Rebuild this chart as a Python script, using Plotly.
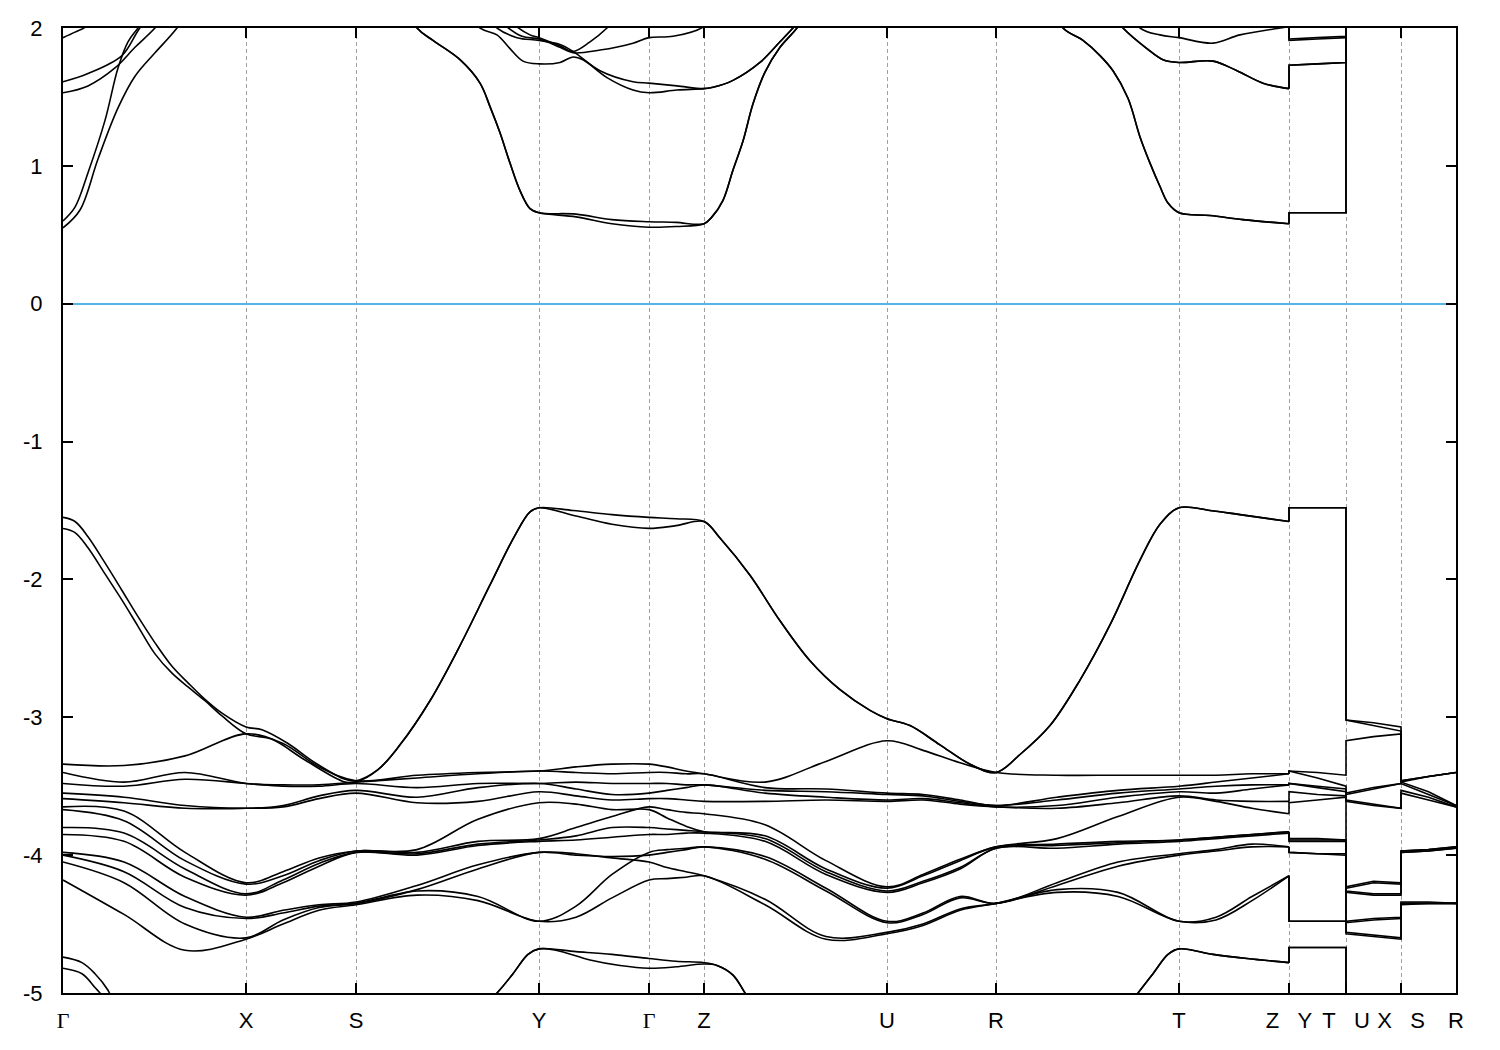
import plotly.graph_objects as go

# ---------------- k-path (high-symmetry points) ----------------
K_TICKS = [0.00, 1.83, 2.93, 4.76, 5.86, 6.41, 8.24, 9.33, 11.16, 12.26, 12.83, 13.38, 13.93]
K_LABELS = ['<span style="font-family:Liberation Serif">Γ</span>', "X", "S", "Y",
            '<span style="font-family:Liberation Serif">Γ</span>', "Z", "U", "R", "T",
            "Z\u00a0\u00a0\u00a0Y", "T\u00a0\u00a0\u00a0U", "X\u00a0\u00a0\u00a0S", "R"]
Y_TICKS = [-5, -4, -3, -2, -1, 0, 1, 2]
Y_LABELS = ["-5", "-4", "-3", "-2", "-1", "0", "1", "2"]

# sampling of the dense valence cluster (main path Γ-X-S-Y-Γ-Z-U-R-T-Z)
K_MAIN = [0.00, 0.61, 1.22, 1.83, 2.20, 2.56, 2.93, 3.54, 4.15, 4.76, 5.13, 5.49, 5.86, 6.04,
          6.23, 6.41, 7.02, 7.63, 8.24, 8.60, 8.97, 9.33, 9.94, 10.55, 11.16, 11.53, 11.89, 12.26]
# tail: Z | Y - T | U - X | S - R
K_TAIL = [12.26, 12.26, 12.545, 12.83, 12.83, 13.105, 13.38, 13.38, 13.655, 13.93]

# ---------------- valence cluster levels (13 bands, eV) ----------------
G_LEV = [-3.34, -3.40, -3.48, -3.55, -3.59, -3.65, -3.67, -3.80, -3.85, -3.98, -4.00, -4.05, -4.18]
X_LEV = [-3.12, -3.48, -3.48, -3.66, -3.66, -4.20, -4.21, -4.28, -4.29, -4.45, -4.46, -4.60, -4.61]
S_LEV = [-3.46, -3.47, -3.48, -3.53, -3.55, -3.97, -3.97, -3.98, -3.98, -4.34, -4.35, -4.35, -4.36]
Y_LEV = [-3.39, -3.39, -3.48, -3.48, -3.54, -3.62, -3.88, -3.89, -3.90, -3.98, -3.98, -4.48, -4.48]
Z_LEV = [-3.41, -3.41, -3.49, -3.49, -3.61, -3.70, -3.83, -3.83, -3.84, -3.94, -3.94, -4.15, -4.15]
U_LEV = [-3.17, -3.55, -3.56, -3.60, -3.61, -4.23, -4.24, -4.26, -4.27, -4.48, -4.49, -4.56, -4.57]
R_LEV = [-3.40, -3.64, -3.64, -3.65, -3.65, -3.94, -3.94, -3.95, -3.95, -4.35, -4.35, -4.35, -4.35]
T_LEV = [-3.42, -3.50, -3.52, -3.54, -3.57, -3.58, -3.89, -3.89, -3.90, -3.99, -4.00, -4.48, -4.48]

GX_1 = [-3.35, -3.47, -3.50, -3.58, -3.62, -3.68, -3.75, -3.84, -3.90, -4.05, -4.12, -4.20, -4.43]
GX_2 = [-3.28, -3.40, -3.45, -3.64, -3.66, -3.98, -4.04, -4.10, -4.16, -4.30, -4.38, -4.50, -4.69]
XS_1 = [-3.19, -3.49, -3.50, -3.64, -3.65, -4.12, -4.15, -4.18, -4.20, -4.40, -4.42, -4.47, -4.50]
XS_2 = [-3.36, -3.49, -3.50, -3.57, -3.59, -4.02, -4.04, -4.06, -4.08, -4.36, -4.37, -4.38, -4.40]
SY_1 = [-3.42, -3.44, -3.51, -3.58, -3.62, -3.96, -3.98, -3.99, -4.00, -4.22, -4.25, -4.26, -4.29]
SY_2 = [-3.40, -3.41, -3.48, -3.51, -3.61, -3.74, -3.90, -3.92, -3.93, -4.07, -4.10, -4.30, -4.33]
YG_1 = [-3.36, -3.40, -3.47, -3.52, -3.57, -3.63, -3.80, -3.86, -3.89, -3.99, -4.00, -4.37, -4.45]
YG_2 = [-3.34, -3.41, -3.48, -3.56, -3.60, -3.67, -3.72, -3.80, -3.87, -4.02, -4.01, -4.14, -4.31]
GZ_1 = [-3.36, -3.40, -3.48, -3.53, -3.59, -3.67, -3.73, -3.81, -3.85, -3.96, -3.98, -4.09, -4.17]
GZ_2 = [-3.39, -3.41, -3.49, -3.51, -3.60, -3.69, -3.79, -3.82, -3.84, -3.95, -3.96, -4.12, -4.16]
ZU_1 = [-3.47, -3.51, -3.53, -3.55, -3.61, -3.78, -3.86, -3.88, -3.90, -4.01, -4.03, -4.32, -4.36]
ZU_2 = [-3.32, -3.52, -3.54, -3.58, -3.60, -4.04, -4.10, -4.12, -4.14, -4.24, -4.26, -4.59, -4.61]
UR_1 = [-3.24, -3.56, -3.57, -3.59, -3.60, -4.14, -4.15, -4.19, -4.20, -4.42, -4.43, -4.50, -4.51]
UR_2 = [-3.33, -3.60, -3.61, -3.62, -3.63, -4.03, -4.04, -4.09, -4.10, -4.30, -4.31, -4.39, -4.40]
RT_1 = [-3.42, -3.58, -3.60, -3.64, -3.66, -3.88, -3.92, -3.93, -3.95, -4.20, -4.22, -4.25, -4.27]
RT_2 = [-3.42, -3.53, -3.55, -3.58, -3.62, -3.72, -3.90, -3.91, -3.92, -4.05, -4.08, -4.27, -4.30]
TZ_1 = [-3.42, -3.47, -3.50, -3.55, -3.60, -3.61, -3.87, -3.87, -3.88, -3.96, -3.97, -4.45, -4.47]
TZ_2 = [-3.41, -3.44, -3.49, -3.52, -3.61, -3.66, -3.85, -3.85, -3.86, -3.92, -3.94, -4.30, -4.33]
YT_M = [-3.40, -3.44, -3.50, -3.51, -3.56, -3.60, -3.88, -3.89, -3.90, -3.99, -3.99, -4.48, -4.48]
UX_M = [-3.14, -3.51, -3.52, -3.63, -3.64, -4.19, -4.20, -4.28, -4.29, -4.46, -4.47, -4.58, -4.59]
SR_M = [-3.43, -3.54, -3.56, -3.58, -3.60, -3.96, -3.96, -3.97, -3.97, -4.34, -4.35, -4.35, -4.35]

CLUSTER_MAIN = [G_LEV, GX_1, GX_2, X_LEV, XS_1, XS_2, S_LEV, SY_1, SY_2, Y_LEV, YG_1, YG_2,
                G_LEV, GZ_1, GZ_2, Z_LEV, ZU_1, ZU_2, U_LEV, UR_1, UR_2, R_LEV, RT_1, RT_2,
                T_LEV, TZ_1, TZ_2, Z_LEV]
CLUSTER_TAIL = [Z_LEV, Y_LEV, YT_M, T_LEV, U_LEV, UX_M, X_LEV, S_LEV, SR_M, R_LEV]
# band crossings at the second Γ: from there on the listed levels belong to these band indices
GAMMA2_INDEX = 12
CROSS_ORDER = [0, 1, 2, 3, 4, 6, 5, 7, 8, 11, 10, 9, 12]

# ---------------- top valence bands ----------------
VB1_K = [0, .12, .25, .42, .59, .75, .92, 1.09, 1.25, 1.42, 1.59, 1.83, 1.99, 2.25, 2.52, 2.82, 2.93,
         3.15, 3.37, 3.67, 3.97, 4.27, 4.52, 4.67, 4.76, 5.10, 5.49, 5.86, 6.13, 6.41, 6.57, 6.87,
         7.17, 7.47, 7.77, 8.07, 8.24, 8.47, 8.77, 9.07, 9.33, 9.57, 9.87, 10.17, 10.47,
         10.77, 10.97, 11.16, 11.47, 11.77, 12.26]
VB1_E = [-1.55, -1.58, -1.69, -1.88, -2.08, -2.27, -2.46, -2.63, -2.75, -2.87, -2.97, -3.07, -3.09,
         -3.19, -3.33, -3.45, -3.46, -3.38, -3.20, -2.88, -2.48, -2.04, -1.68, -1.51, -1.48, -1.50,
         -1.53, -1.55, -1.56, -1.58, -1.70, -1.97, -2.30, -2.59, -2.80, -2.95, -3.01, -3.06, -3.20,
         -3.34, -3.40, -3.27, -3.06, -2.73, -2.33, -1.86, -1.60, -1.48, -1.50, -1.53, -1.58]
VB2_K = [0, .12, .25, .42, .59, .75, .92, 1.09, 1.25, 1.42, 1.59, 1.83, 2.09, 2.42, 2.82, 2.93,
         3.15, 3.37, 3.67, 3.97, 4.27, 4.52, 4.67, 4.76, 5.13, 5.49, 5.86, 6.13, 6.41, 6.57, 6.87,
         7.17, 7.47, 7.77, 8.07, 8.24, 8.47, 8.77, 9.07, 9.33, 9.57, 9.87, 10.17, 10.47,
         10.77, 10.97, 11.16, 11.47, 11.77, 12.26]
VB2_E = [-1.63, -1.66, -1.77, -1.96, -2.15, -2.34, -2.54, -2.68, -2.78, -2.88, -2.99, -3.12, -3.16,
         -3.31, -3.47, -3.47, -3.38, -3.20, -2.88, -2.48, -2.04, -1.68, -1.51, -1.48, -1.54, -1.60,
         -1.63, -1.61, -1.58, -1.70, -1.97, -2.30, -2.59, -2.80, -2.95, -3.01, -3.06, -3.20, -3.34,
         -3.40, -3.27, -3.06, -2.73, -2.33, -1.86, -1.60, -1.48, -1.50, -1.53, -1.58]
VB1_TAIL = [-1.58, -1.48, -1.48, -1.48, -3.02, -3.04, -3.07, -3.46, -3.43, -3.40]
VB2_TAIL = [-1.58, -1.48, -1.48, -1.48, -3.02, -3.06, -3.10, -3.47, -3.43, -3.40]

# ---------------- deep valence bands ----------------
D1_K = [0, .19, .32, .45, .62, 1.07, 2.37, 3.77, 4.34, 4.50, 4.65, 4.76, 5.13, 5.49, 5.86, 6.13,
        6.41, 6.54, 6.70, 6.82, 7.07, 8.24, 9.33, 10.37, 10.75, 10.90, 11.05, 11.16, 11.50, 11.84, 12.26]
D1_E = [-4.74, -4.78, -4.86, -4.98, -5.25, -5.5, -5.6, -5.4, -5.0, -4.86, -4.72, -4.68, -4.70, -4.72,
        -4.75, -4.77, -4.78, -4.80, -4.87, -5.0, -5.3, -5.6, -5.6, -5.35, -5.0, -4.86, -4.72, -4.68,
        -4.72, -4.75, -4.78]
D2_K = [0, .19, .32, .39, .57, 1.07, 2.37, 3.77, 4.34, 4.50, 4.65, 4.76, 4.93, 5.27, 5.57, 5.86, 6.13,
        6.41, 6.54, 6.70, 6.82, 7.07, 8.24, 9.33, 10.37, 10.75, 10.90, 11.05, 11.16, 11.50, 11.84, 12.26]
D2_E = [-4.82, -4.86, -4.96, -5.02, -5.3, -5.6, -5.7, -5.4, -5.0, -4.86, -4.72, -4.68, -4.69, -4.76,
        -4.80, -4.82, -4.81, -4.79, -4.80, -4.87, -5.0, -5.3, -5.6, -5.6, -5.35, -5.0, -4.86, -4.72,
        -4.68, -4.72, -4.75, -4.78]
D_TAIL = [-4.78, -4.67, -4.67, -4.67, -5.6, -5.6, -5.6, -5.6, -5.6, -5.6]

# ---------------- conduction bands ----------------
CB1_K = [0, .17, .35, .55, .72, .92, 1.14, 1.47, 1.83, 2.37, 2.93, 3.27, 3.54, 3.70, 3.97, 4.17, 4.27,
         4.37, 4.47, 4.57, 4.67, 4.76, 5.13, 5.49, 5.86, 6.13, 6.41, 6.49, 6.60, 6.70, 6.80, 6.90,
         7.02, 7.17, 7.34, 7.67, 8.24, 9.33, 9.77, 10.00, 10.20, 10.37, 10.50, 10.65, 10.77, 10.87,
         10.97, 11.05, 11.16, 11.47, 11.80, 12.26]
CB1_E = [.55, .68, 1.05, 1.42, 1.65, 1.82, 2.0, 2.35, 2.55, 2.7, 2.6, 2.35, 2.0, 1.91, 1.77, 1.60, 1.43,
         1.24, 1.02, .82, .69, .66, .63, .58, .555, .56, .58, .63, .75, .97, 1.18, 1.45, 1.68, 1.86,
         2.0, 2.35, 2.6, 2.6, 2.3, 2.0, 1.91, 1.80, 1.69, 1.49, 1.21, 1.02, .85, .73, .66, .64, .61, .58]
CB2_K = [0, .12, .25, .42, .55, .65, .75, 1.07, 1.83, 2.37, 2.93, 3.27, 3.54, 3.70, 3.97, 4.17, 4.27,
         4.37, 4.47, 4.57, 4.67, 4.76, 5.13, 5.49, 5.86, 6.13, 6.41, 6.49, 6.60, 6.70, 6.80, 6.90,
         7.02, 7.17, 7.34, 7.67, 8.24, 9.33, 9.77, 10.00, 10.20, 10.37, 10.50, 10.65, 10.77, 10.87,
         10.97, 11.05, 11.16, 11.47, 11.80, 12.26]
CB2_E = [.60, .70, .95, 1.33, 1.71, 1.90, 2.0, 2.3, 2.6, 2.7, 2.6, 2.35, 2.0, 1.91, 1.77, 1.60, 1.43,
         1.24, 1.02, .82, .69, .66, .65, .61, .595, .59, .58, .63, .75, .97, 1.18, 1.45, 1.68, 1.86,
         2.0, 2.35, 2.6, 2.6, 2.3, 2.0, 1.91, 1.80, 1.69, 1.49, 1.21, 1.02, .85, .73, .66, .64, .61, .58]
CB3_K = [0, .25, .52, .72, .92, 1.27, 1.83, 2.93, 3.77, 4.17, 4.34, 4.47, 4.60, 4.76, 4.97, 5.10, 5.20,
         5.44, 5.70, 5.86, 6.14, 6.41, 6.50, 6.70, 6.97, 7.17, 7.30, 7.67, 8.24, 9.33, 10.27, 10.60,
         10.84, 11.00, 11.16, 11.50, 11.74, 12.00, 12.26]
CB3_E = [1.53, 1.58, 1.71, 1.86, 2.0, 2.3, 2.6, 2.6, 2.3, 2.0, 1.95, 1.85, 1.76, 1.74, 1.75, 1.79, 1.77,
         1.64, 1.55, 1.53, 1.55, 1.56, 1.57, 1.62, 1.75, 1.90, 2.0, 2.3, 2.6, 2.6, 2.3, 2.0, 1.85, 1.77,
         1.75, 1.76, 1.69, 1.60, 1.56]
CB4_K = [0, .25, .59, .75, .87, 1.37, 1.83, 2.93, 3.97, 4.34, 4.54, 4.76, 4.97, 5.10, 5.37, 5.70, 5.86,
         6.14, 6.41, 6.50, 6.70, 6.97, 7.17, 7.30, 7.67, 8.24, 9.33, 10.27, 10.60, 10.84, 11.00, 11.16,
         11.50, 11.74, 12.00, 12.26]
CB4_E = [1.61, 1.67, 1.80, 1.98, 2.1, 2.4, 2.6, 2.6, 2.3, 2.0, 1.93, 1.91, 1.88, 1.83, 1.69, 1.61, 1.60,
         1.58, 1.56, 1.57, 1.62, 1.75, 1.90, 2.0, 2.3, 2.6, 2.6, 2.3, 2.0, 1.85, 1.77, 1.75, 1.76, 1.69,
         1.60, 1.56]
CB5_K = [0, .12, .25, .57, 1.83, 2.93, 4.07, 4.42, 4.59, 4.76, 4.97, 5.10, 5.37, 5.70, 5.86, 6.10, 6.41,
         6.77, 8.24, 9.33, 10.47, 10.77, 10.97, 11.16, 11.50, 11.77, 12.17, 12.26]
CB5_E = [1.93, 1.97, 2.02, 2.3, 2.6, 2.6, 2.3, 2.02, 1.94, 1.92, 1.86, 1.82, 1.84, 1.89, 1.93, 1.94, 2.01,
         2.3, 2.6, 2.6, 2.3, 2.0, 1.95, 1.93, 1.89, 1.95, 2.0, 2.01]
CB6_K = [0, 1.83, 2.93, 4.17, 4.52, 4.67, 4.76, 4.97, 5.10, 5.27, 5.44, 5.67, 5.86, 6.41, 8.24, 9.33,
         11.16, 12.26]
CB6_E = [2.3, 2.6, 2.6, 2.3, 2.02, 1.95, 1.93, 1.87, 1.83, 1.90, 2.0, 2.2, 2.3, 2.4, 2.6, 2.6, 2.4, 2.3]
CB1_TAIL = [0.58, 0.66, 0.66, 0.66, 2.6, 2.6, 2.6, 2.6, 2.6, 2.6]
CB3_TAIL = [1.56, 1.73, 1.74, 1.75, 2.6, 2.6, 2.6, 2.6, 2.6, 2.6]
CB5_TAIL = [2.01, 1.91, 1.92, 1.93, 2.6, 2.6, 2.6, 2.6, 2.6, 2.6]
CB6_TAIL = [2.30, 1.92, 1.93, 1.94, 2.6, 2.6, 2.6, 2.6, 2.6, 2.6]

# ---------------- build figure ----------------
BAND_COLOR = "black"
BAND_WIDTH = 1.6

fig = go.Figure()


def add_band(k, e, tail):
    fig.add_trace(go.Scatter(x=k, y=e, mode="lines",
                             line=dict(color=BAND_COLOR, width=BAND_WIDTH, shape="spline", smoothing=1.0),
                             hoverinfo="skip", showlegend=False))
    fig.add_trace(go.Scatter(x=K_TAIL, y=tail, mode="lines",
                             line=dict(color=BAND_COLOR, width=BAND_WIDTH),
                             hoverinfo="skip", showlegend=False))


n_cluster = len(G_LEV)
for i in range(n_cluster):
    j = CROSS_ORDER[i]
    main = [col[i] if c < GAMMA2_INDEX else col[j] for c, col in enumerate(CLUSTER_MAIN)]
    tail = [col[j] for col in CLUSTER_TAIL]
    add_band(K_MAIN, main, tail)

add_band(VB1_K, VB1_E, VB1_TAIL)
add_band(VB2_K, VB2_E, VB2_TAIL)
add_band(D1_K, D1_E, D_TAIL)
add_band(D2_K, D2_E, D_TAIL)
add_band(CB1_K, CB1_E, CB1_TAIL)
add_band(CB2_K, CB2_E, CB1_TAIL)
add_band(CB3_K, CB3_E, CB3_TAIL)
add_band(CB4_K, CB4_E, CB3_TAIL)
add_band(CB5_K, CB5_E, CB5_TAIL)
add_band(CB6_K, CB6_E, CB6_TAIL)

fig.update_layout(
    width=1500, height=1050,
    margin=dict(l=55, r=52, t=20, b=65, autoexpand=False),
    paper_bgcolor="white", plot_bgcolor="white",
    font=dict(family="Liberation Sans, Arial, sans-serif", size=22, color="black"),
    showlegend=False,
)
fig.update_xaxes(
    range=[K_TICKS[0], K_TICKS[-1]], automargin=False,
    tickmode="array", tickvals=K_TICKS, ticktext=K_LABELS,
    ticks="inside", ticklen=10, tickwidth=2, tickcolor="black",
    showline=True, linewidth=2, linecolor="black", mirror="ticks",
    showgrid=True, gridcolor="#a0a0a0", gridwidth=1, griddash="4px,3px",
    zeroline=False, ticklabelstandoff=7,
    tickfont=dict(size=22, family="Liberation Sans, Arial, sans-serif", color="black"),
)
fig.update_yaxes(
    range=[-5, 2], automargin=False,
    tickmode="array", tickvals=Y_TICKS, ticktext=Y_LABELS,
    ticks="inside", ticklen=10, tickwidth=2, tickcolor="black",
    showline=True, linewidth=2, linecolor="black", mirror="ticks",
    showgrid=False,
    zeroline=True, zerolinecolor="#56b4e9", zerolinewidth=2,
    ticklabelstandoff=14,
    tickfont=dict(size=22, family="Liberation Sans, Arial, sans-serif", color="black"),
)

fig.write_html("out.html")
